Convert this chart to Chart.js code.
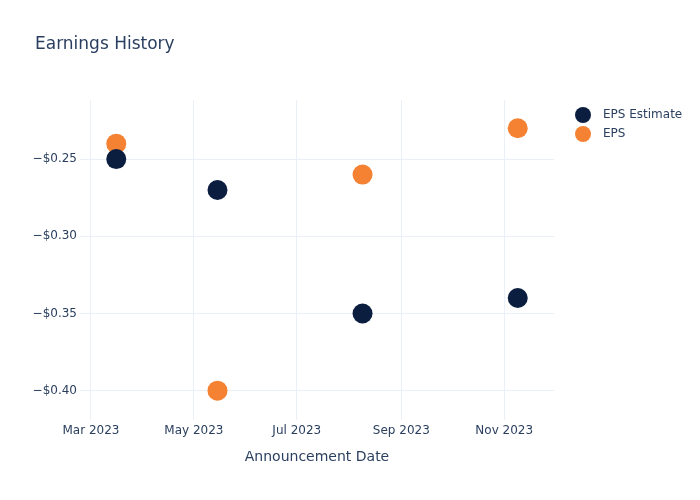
<!DOCTYPE html>
<html lang="en">
<head>
    <meta charset="UTF-8">
    <title>Earnings History</title>
    <script src="https://cdn.jsdelivr.net/npm/chart.js"></script>
    <style>
        html, body { margin: 0; padding: 0; background: #fff; }
        #wrap { width: 700px; height: 500px; }
    </style>
</head>
<body>
<div id="wrap"><canvas id="earningsChart" width="700" height="500"></canvas></div>

<script>
    // data
    const dates = ['2023-03-16', '2023-05-15', '2023-08-09', '2023-11-09'];
    const epsEstimate = [-0.25, -0.27, -0.35, -0.34];
    const eps = [-0.24, -0.40, -0.26, -0.23];
    const xTickDates = ['2023-03-01', '2023-05-01', '2023-07-01', '2023-09-01', '2023-11-01'];
    const yTicks = [-0.40, -0.35, -0.30, -0.25];
    const monthNames = ['Jan', 'Feb', 'Mar', 'Apr', 'May', 'Jun', 'Jul', 'Aug', 'Sep', 'Oct', 'Nov', 'Dec'];

    const textColor = '#2a3f5f';
    const gridColor = '#ebf0f8';
    const navy = '#0b1e40';
    const orange = '#f58233';

    const ts = d => Date.parse(d + 'T00:00:00Z');
    const toPoints = vals => dates.map((d, i) => ({ x: ts(d), y: vals[i] }));

    const series = [
        { label: 'EPS Estimate', data: toPoints(epsEstimate), color: navy },
        { label: 'EPS', data: toPoints(eps), color: orange }
    ];

    // title + legend drawn by hand so they sit where plotly put them
    const decorations = {
        id: 'decorations',
        afterDraw(chart) {
            const c = chart.ctx;
            c.save();
            c.fillStyle = textColor;
            c.font = '17px "DejaVu Sans", "Open Sans", sans-serif';
            c.textBaseline = 'middle';
            c.textAlign = 'left';
            c.fillText('Earnings History', 35, 45);

            c.font = '12px "DejaVu Sans", "Open Sans", sans-serif';
            series.forEach((s, i) => {
                const y = 115 + i * 19;
                c.beginPath();
                c.arc(583, y, 8, 0, Math.PI * 2);
                c.fillStyle = s.color;
                c.fill();
                c.fillStyle = textColor;
                c.fillText(s.label, 603, y);
            });
            c.restore();
        }
    };

    const ctx = document.getElementById('earningsChart').getContext('2d');
    new Chart(ctx, {
        type: 'scatter',
        data: {
            datasets: series.map(s => ({
                label: s.label,
                data: s.data,
                backgroundColor: s.color,
                borderColor: s.color,
                borderWidth: 0,
                pointRadius: 10,
                pointHoverRadius: 10
            }))
        },
        options: {
            responsive: false,
            animation: false,
            layout: { padding: { top: 100, right: 146, left: 0, bottom: 0 } },
            plugins: {
                legend: { display: false },
                title: { display: false },
                tooltip: { enabled: false }
            },
            scales: {
                x: {
                    type: 'linear',
                    min: Date.parse('2023-02-22T12:00:00Z'),
                    max: Date.parse('2023-11-30T12:00:00Z'),
                    border: { display: false },
                    grid: { color: gridColor, drawTicks: false },
                    afterBuildTicks: axis => { axis.ticks = xTickDates.map(d => ({ value: ts(d) })); },
                    afterFit: axis => { axis.height = 80; },
                    ticks: {
                        padding: 4,
                        color: textColor,
                        font: { size: 12, family: '"DejaVu Sans", "Open Sans", sans-serif' },
                        maxRotation: 0,
                        callback: v => {
                            const d = new Date(v);
                            return monthNames[d.getUTCMonth()] + ' ' + d.getUTCFullYear();
                        }
                    },
                    title: {
                        display: true,
                        text: 'Announcement Date',
                        color: textColor,
                        font: { size: 14, family: '"DejaVu Sans", "Open Sans", sans-serif' },
                        padding: { top: 0, bottom: 34 }
                    }
                },
                y: {
                    min: -0.4190,
                    max: -0.2117,
                    border: { display: false },
                    grid: { color: gridColor, drawTicks: false },
                    afterBuildTicks: axis => { axis.ticks = yTicks.map(v => ({ value: v })); },
                    afterFit: axis => { axis.width = 80; },
                    ticks: {
                        padding: 3,
                        color: textColor,
                        font: { size: 12, family: '"DejaVu Sans", "Open Sans", sans-serif' },
                        callback: v => '\u2212$' + Math.abs(v).toFixed(2)
                    }
                }
            }
        },
        plugins: [decorations]
    });
</script>
</body>
</html>
